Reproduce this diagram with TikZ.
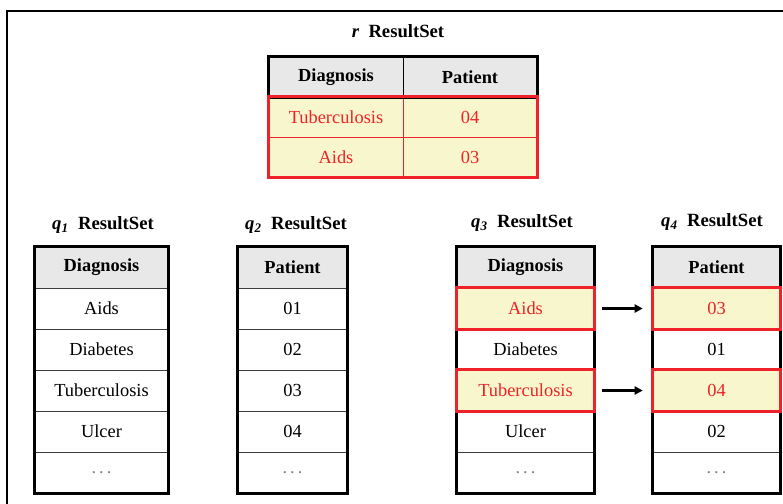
\documentclass[tikz,border=0pt]{standalone}
\usepackage{fontspec}
\setmainfont{Liberation Serif}
\usetikzlibrary{arrows.meta}
\definecolor{hdrgray}{RGB}{232,232,232}
\definecolor{hlyellow}{RGB}{248,246,204}
\definecolor{hlred}{RGB}{238,34,40}
\definecolor{sepgray}{RGB}{60,60,60}
\tikzset{
  cellnode/.style={inner sep=0pt, minimum height=30.75pt, font=\fontsize{13.8pt}{15pt}\selectfont},
  hdrnode/.style={cellnode, fill=hdrgray, font=\fontsize{13.8pt}{15pt}\selectfont\bfseries},
  hlnode/.style={fill=hlyellow, text=hlred},
  titlenode/.style={inner sep=0pt, font=\fontsize{14pt}{16pt}\selectfont\bfseries},
  sepline/.style={draw=sepgray, line width=0.9pt},
  outerline/.style={draw=black, line width=2.4pt},
  redline/.style={draw=hlred, line width=2.4pt},
  redsep/.style={draw=hlred, line width=0.9pt},
  conn/.style={draw=black, line width=1.6pt, -{Triangle[length=6pt,width=6pt]}},
  frameline/.style={draw=black, line width=1.1pt}
}
\newcommand\qsub[1]{\textit{q}\textsubscript{\textit{#1}}}
\newcommand\etcdots{\textcolor{gray}{.\,.\,.}}
\begin{document}
\begin{tikzpicture}[x=0.75pt,y=-0.75pt]
\useasboundingbox (0,0) rectangle (783,504);
\clip (0,0) rectangle (783,504);
\draw[frameline] (7,11) rectangle (810,530);

% ---------- r ResultSet ----------
\node[titlenode] (rt) at (398,31) {\textit{r}\ \ ResultSet};
\node[hdrnode, minimum width=100.5pt, minimum height=30pt] (rh1) at (336,77) {Diagnosis};
\node[hdrnode, minimum width=100.5pt, minimum height=30pt] (rh2) at (470,77) {Patient};
\node[cellnode, hlnode, minimum width=100.5pt, minimum height=30pt] (r11) at (336,117) {Tuberculosis};
\node[cellnode, hlnode, minimum width=100.5pt, minimum height=30pt] (r12) at (470,117) {04};
\node[cellnode, hlnode, minimum width=100.5pt, minimum height=30pt] (r21) at (336,157) {Aids};
\node[cellnode, hlnode, minimum width=100.5pt, minimum height=30pt] (r22) at (470,157) {03};
\draw[sepline, draw=black] (rh1.north east) -- (rh1.south east);
\draw[redsep] (r11.south west) -- (r12.south east);
\draw[redsep] (r11.north east) -- (r21.south east);
\draw[outerline] (rh1.north west) rectangle (rh2.south east);
\draw[redline] (r11.north west) rectangle (r22.south east);

% ---------- q1 ----------
\node[titlenode] (q1t) at (103,225) {\qsub{1}\ \ ResultSet};
\node[hdrnode, minimum width=99.75pt] (q1-0) at (101.5,267.5) {Diagnosis};
\foreach \t [count=\i] in {Aids,Diabetes,Tuberculosis,Ulcer,\etcdots}
  \node[cellnode, minimum width=99.75pt] (q1-\i) at (101.5,267.5+41*\i) {\t};
\foreach \i in {0,...,4} \draw[sepline] (q1-\i.south west) -- (q1-\i.south east);
\draw[outerline] (q1-0.north west) rectangle (q1-5.south east);

% ---------- q2 ----------
\node[titlenode] (q2t) at (296,225) {\qsub{2}\ \ ResultSet};
\node[hdrnode, minimum width=81.75pt] (q2-0) at (292.5,267.5) {Patient};
\foreach \t [count=\i] in {01,02,03,04,\etcdots}
  \node[cellnode, minimum width=81.75pt] (q2-\i) at (292.5,267.5+41*\i) {\t};
\foreach \i in {0,...,4} \draw[sepline] (q2-\i.south west) -- (q2-\i.south east);
\draw[outerline] (q2-0.north west) rectangle (q2-5.south east);

% ---------- q3 ----------
\node[titlenode] (q3t) at (522,223) {\qsub{3}\ \ ResultSet};
\node[hdrnode, minimum width=102.75pt] (q3-0) at (525.5,267.5) {Diagnosis};
\node[cellnode, hlnode, minimum width=102.75pt] (q3-1) at (525.5,308.5) {Aids};
\node[cellnode, minimum width=102.75pt] (q3-2) at (525.5,349.5) {Diabetes};
\node[cellnode, hlnode, minimum width=102.75pt] (q3-3) at (525.5,390.5) {Tuberculosis};
\node[cellnode, minimum width=102.75pt] (q3-4) at (525.5,431.5) {Ulcer};
\node[cellnode, minimum width=102.75pt] (q3-5) at (525.5,472.5) {\etcdots};
\foreach \i in {0,...,4} \draw[sepline] (q3-\i.south west) -- (q3-\i.south east);
\draw[outerline] (q3-0.north west) rectangle (q3-5.south east);
\draw[redline] (q3-1.north west) rectangle (q3-1.south east);
\draw[redline] (q3-3.north west) rectangle (q3-3.south east);

% ---------- q4 ----------
\node[titlenode] (q4t) at (712,222) {\qsub{4}\ \ ResultSet};
\node[hdrnode, minimum width=95.25pt] (q4-0) at (716.5,267.5) {Patient};
\node[cellnode, hlnode, minimum width=95.25pt] (q4-1) at (716.5,308.5) {03};
\node[cellnode, minimum width=95.25pt] (q4-2) at (716.5,349.5) {01};
\node[cellnode, hlnode, minimum width=95.25pt] (q4-3) at (716.5,390.5) {04};
\node[cellnode, minimum width=95.25pt] (q4-4) at (716.5,431.5) {02};
\node[cellnode, minimum width=95.25pt] (q4-5) at (716.5,472.5) {\etcdots};
\foreach \i in {0,...,4} \draw[sepline] (q4-\i.south west) -- (q4-\i.south east);
\draw[outerline] (q4-0.north west) rectangle (q4-5.south east);
\draw[redline] (q4-1.north west) rectangle (q4-1.south east);
\draw[redline] (q4-3.north west) rectangle (q4-3.south east);

% ---------- connectors ----------
\draw[conn, shorten <=6pt, shorten >=7.5pt] (q3-1.east) -- (q4-1.west);
\draw[conn, shorten <=6pt, shorten >=7.5pt] (q3-3.east) -- (q4-3.west);
\end{tikzpicture}
\end{document}
